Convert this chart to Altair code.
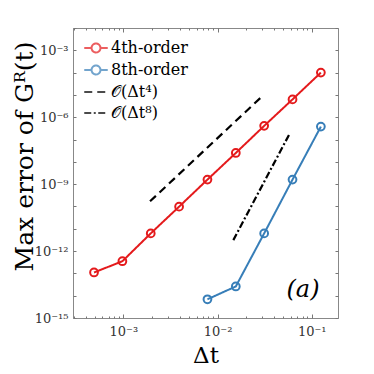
import altair as alt
import pandas as pd

# ---- data ----
dt4 = [0.125, 0.0625, 0.03125, 0.015625, 0.0078125, 0.00390625,
       0.001953125, 0.0009765625, 0.00048828125]
err4 = [1.0e-4, 6.3e-6, 4.1e-7, 2.5e-8, 1.6e-9, 9.8e-11, 6.2e-12, 3.5e-13, 1.1e-13]
dt8 = [0.125, 0.0625, 0.03125, 0.015625, 0.0078125]
err8 = [3.8e-7, 1.6e-9, 6.2e-12, 2.6e-14, 6.9e-15]

ref4_x = [0.00192, 0.0294]
ref4_y = [1.7e-10, 8.3e-6]
ref8_x = [0.0147, 0.0589]
ref8_y = [3.1e-12, 2.0e-7]

series_names = ["4th-order", "8th-order", "𝒪(Δt⁴)", "𝒪(Δt⁸)"]
series_colors = ["#e41a1c", "#377eb8", "#000000", "#000000"]
series_dash = [[1, 0], [1, 0], [8, 5], [7, 2.5, 2, 2.5]]

x_major = [1e-3, 1e-2, 1e-1]
x_major_labels = ["10⁻³", "10⁻²", "10⁻¹"]
x_minor = [k * 10.0 ** e for e in (-4, -3, -2, -1) for k in range(2, 10)]
y_ticks = [10.0 ** e for e in range(-15, -1)]
y_labels = {-15: "10⁻¹⁵", -12: "10⁻¹²", -9: "10⁻⁹", -6: "10⁻⁶", -3: "10⁻³"}
panel_label = ["(a)"]

x_domain = [2.92e-4, 0.19]
y_domain = [1e-15, 1e-2]

FONT = "DejaVu Serif"
W, H = 265, 290

data_df = pd.DataFrame({
    "dt": dt4 + dt8,
    "err": err4 + err8,
    "series": [series_names[0]] * len(dt4) + [series_names[1]] * len(dt8),
})
ref_df = pd.DataFrame({
    "dt": ref4_x + ref8_x,
    "err": ref4_y + ref8_y,
    "series": [series_names[2]] * 2 + [series_names[3]] * 2,
})

# label expressions
xlab = "".join(f"abs(datum.value-{v})<{v}*0.01 ? '{l}' : " for v, l in zip(x_major, x_major_labels)) + "''"
ylab = "".join(f"round(log(datum.value)/LN10)=={e} ? '{l}' : " for e, l in y_labels.items()) + "''"

xs = alt.Scale(type="log", domain=x_domain, nice=False)
ys = alt.Scale(type="log", domain=y_domain, nice=False)

LEG = dict(title=None, orient="none", legendX=10, legendY=7)
color_enc = alt.Color("series:N", scale=alt.Scale(domain=series_names, range=series_colors),
                      legend=alt.Legend(**LEG))
dash_enc = alt.StrokeDash("series:N", scale=alt.Scale(domain=series_names, range=series_dash),
                          legend=alt.Legend(**LEG))

r = 0.38
circ_line = (f"M-1,0L-{r},0M{r},0L1,0M{r},0A{r},{r},0,1,1,-{r},0A{r},{r},0,1,1,{r},0")
plain_line = "M-1,0L1,0"
shape_enc = alt.Shape("series:N",
                      scale=alt.Scale(domain=series_names,
                                      range=[circ_line, circ_line, plain_line, plain_line]),
                      legend=alt.Legend(**LEG))

TICK = "#777"

def ax(orient, values, size, labels=False, expr=None, title=None, **kw):
    d = dict(orient=orient, values=values, tickSize=size, offset=-size, domain=False,
             grid=False, tickColor=TICK, tickWidth=1, labels=labels)
    if labels:
        d.update(labelExpr=expr, labelFont=FONT, labelFontSize=13, labelColor="#333")
    d.update(title=title if title else None)
    d.update(kw)
    return alt.Axis(**d)

# legend carrier (empty)
carrier = alt.Chart(ref_df).transform_filter("false").mark_point(
    filled=False, strokeWidth=2, size=552
).encode(
    x=alt.X("dt:Q", scale=xs, axis=ax("top", x_minor, 2)),
    y=alt.Y("err:Q", scale=ys, axis=None),
    color=color_enc, shape=shape_enc, strokeDash=dash_enc,
)

lines = alt.Chart(data_df).mark_line(strokeWidth=2).encode(
    x=alt.X("dt:Q", scale=xs, axis=ax("bottom", x_major, 4, labels=True, expr=xlab,
                                       title="Δt", labelPadding=7, titleFont=FONT,
                                       titleFontSize=23, titleFontWeight="normal",
                                       titleColor="#000", titleY=48,
                                       titleBaseline="alphabetic")),
    y=alt.Y("err:Q", scale=ys, axis=ax("left", y_ticks, 3, labels=True, expr=ylab,
                                        title="Max error of Gᴿ(t)", labelPadding=5,
                                        titleFont=FONT, titleFontSize=25,
                                        titleFontWeight="normal", titleColor="#000",
                                        titleX=-44, titleY=128, titleBaseline="alphabetic")),
    color=color_enc, strokeDash=dash_enc,
)

refs = alt.Chart(ref_df).mark_line(strokeWidth=2.2).encode(
    x=alt.X("dt:Q", scale=xs, axis=ax("top", x_major, 4)),
    y=alt.Y("err:Q", scale=ys, axis=ax("right", y_ticks, 3)),
    color=color_enc, strokeDash=dash_enc,
)

points = alt.Chart(data_df).mark_point(shape="circle", filled=False, size=60,
                                       strokeWidth=2, opacity=1).encode(
    x=alt.X("dt:Q", scale=xs, axis=ax("bottom", x_minor, 2)),
    y=alt.Y("err:Q", scale=ys, axis=None),
    color=color_enc,
)

label = alt.Chart(pd.DataFrame({"t": panel_label})).mark_text(
    font=FONT, fontSize=24, fontStyle="italic", color="#000"
).encode(text="t:N", x=alt.value(230), y=alt.value(262))

chart = alt.layer(carrier, lines, refs, points, label).resolve_axis(
    x="independent", y="independent"
).properties(
    width=W, height=H,
    autosize=alt.AutoSizeParams(type="none"),
    padding={"left": 65, "top": 20, "right": 28, "bottom": 56},
).configure_view(
    stroke="#888", strokeWidth=1
).configure_legend(
    symbolSize=552, symbolStrokeWidth=2, symbolFillColor="transparent",
    labelFont=FONT, labelFontSize=16, labelColor="#000", labelOffset=2,
    rowPadding=0, padding=0, labelLimit=200,
)

chart.save("out.html", embed_options={"renderer": "svg", "actions": False})
